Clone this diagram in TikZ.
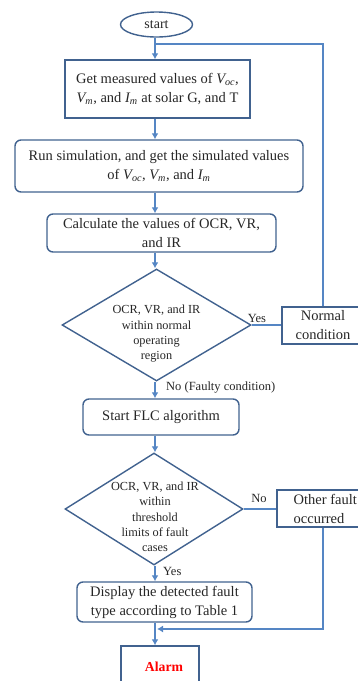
\documentclass[tikz,border=0pt]{standalone}
\usepackage{fontspec}
\setmainfont{Liberation Serif}
\usetikzlibrary{shapes.geometric,arrows.meta,calc}
\definecolor{boxc}{HTML}{41628F}
\definecolor{linec}{HTML}{5586C4}
\definecolor{txt}{HTML}{262626}
\begin{document}
\begin{tikzpicture}[x=1pt,y=-1pt,
  box/.style={draw=boxc, line width=1.4pt, text=txt, align=center, inner sep=0pt, font=\fontsize{14.5}{19}\selectfont},
  rbox/.style={box, rounded corners=6pt},
  dia/.style={diamond, draw=boxc, line width=1.4pt, inner sep=0pt},
  dtext/.style={align=center, text=txt, inner sep=0pt, font=\fontsize{12.3}{15.3}\selectfont},
  lbl/.style={text=txt, font=\fontsize{12.5}{14}\selectfont, inner sep=0pt},
  arr/.style={draw=linec, line width=1.6pt, -{Latex[length=6pt,width=7pt]}},
  ln/.style={draw=linec, line width=1.6pt},
]
\useasboundingbox (0,0) rectangle (358,681);
\coordinate (sp) at (155,0);
\node[ellipse, draw=boxc, line width=1.4pt, minimum width=72pt, minimum height=25pt, inner sep=0pt, text=txt, font=\fontsize{14}{15}\selectfont] (start) at (156.5,24.5) {start};
\node[box, minimum width=185pt, minimum height=58pt] (b1) at (157.5,89) {Get measured values of \textit{V\textsubscript{oc}},\\ \textit{V\textsubscript{m}}, and \textit{I\textsubscript{m}} at solar G, and T};
\node[rbox, minimum width=288pt, minimum height=52pt] (b2) at (159,166) {Run simulation, and get the simulated values\\ of \textit{V\textsubscript{oc}}, \textit{V\textsubscript{m}}, and \textit{I\textsubscript{m}}};
\node[rbox, minimum width=229pt, minimum height=38pt] (b3) at (161.5,233) {Calculate the values of OCR, VR,\\ and IR};
\node[dia, minimum width=189pt, minimum height=112pt] (d1) at (156.5,325) {};
\node[dtext] (d1t) at (156.5,334) {OCR, VR, and IR\\within normal\\operating\\region};
\node[box, minimum width=82pt, minimum height=37pt] (nc) at (323,325.5) {Normal\\condition};
\node[rbox, minimum width=156pt, minimum height=36pt] (flc) at (161,417) {Start FLC algorithm};
\node[dia, minimum width=178pt, minimum height=112pt] (d2) at (154,509) {};
\node[dtext] (d2t) at (155,517) {OCR, VR, and IR\\within\\threshold\\limits of fault\\cases};
\node[box, minimum width=92pt, minimum height=37pt] (of) at (323,508.5) {};
\node[box, draw=none, align=left, anchor=west] (oft) at (293,508.5) {Other fault\\occurred};
\node[rbox, minimum width=175pt, minimum height=40pt] (disp) at (164.5,602) {Display the detected fault\\ type according to Table 1};
\node[box, minimum width=78pt, minimum height=38pt] (alarm) at (160,665) {};
\node[text=red, inner sep=0pt, font=\bfseries\fontsize{13.7}{15}\selectfont] (alarmt) at (164,667) {Alarm};
\node[lbl] (yes1) at (257,318) {Yes};
\node[lbl, anchor=west] (no1) at (166,388) {No (Faulty condition)};
\node[lbl] (no2) at (259,498) {No};
\node[lbl, anchor=west] (yes2) at (163,571) {Yes};
\draw[arr] (start.south -| sp) -- (b1.north -| sp);
\draw[arr] (b1.south -| sp) -- (b2.north -| sp);
\draw[arr] (b2.south -| sp) -- (b3.north -| sp);
\draw[arr] (b3.south -| sp) -- (d1.north -| sp);
\draw[arr] (d1.south -| sp) -- (flc.north -| sp);
\draw[arr] (flc.south -| sp) -- (d2.north -| sp);
\draw[arr] (d2.south -| sp) -- (disp.north -| sp);
\draw[arr] (disp.south -| sp) -- (alarm.north -| sp);
\coordinate (lt) at (155,44);
\draw[ln] (nc.north) |- (lt);
\draw[ln] (d1.east) -- (d1.east -| nc.west);
\draw[ln] (d2.east) -- (d2.east -| of.west);
\coordinate (rt) at (157,629);
\draw[arr] (of.south) |- (rt);
\end{tikzpicture}
\end{document}
